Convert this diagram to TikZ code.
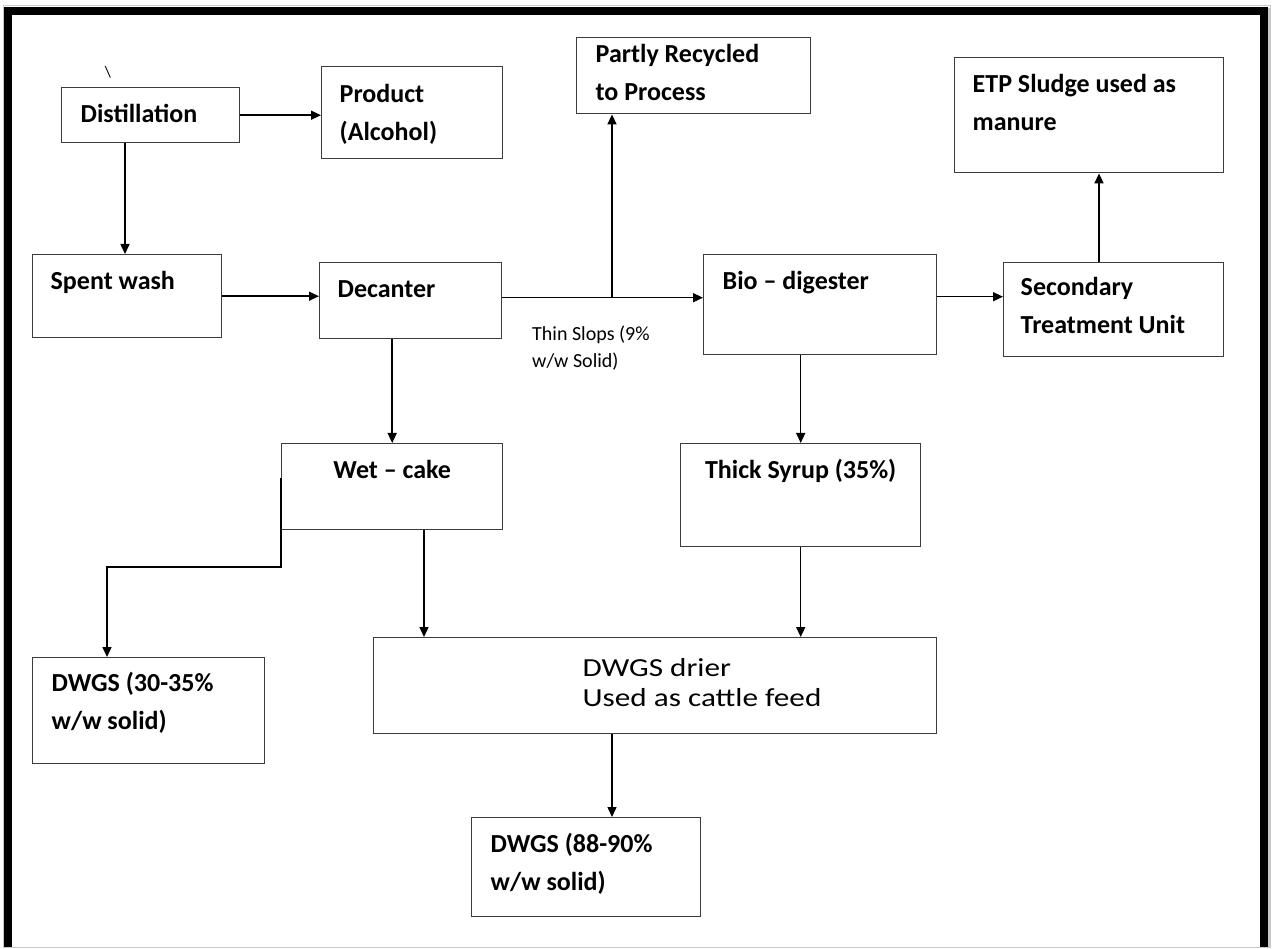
\documentclass[tikz,border=0pt]{standalone}
\usepackage{fontspec}
\setmainfont{Carlito}
\usetikzlibrary{arrows.meta}
\definecolor{boxgray}{RGB}{60,60,60}
\definecolor{framegray}{RGB}{200,200,200}

\begin{document}
\begin{tikzpicture}[x=1pt, y=-1pt,
  blk/.style={draw=boxgray, line width=1.4pt, anchor=north west, inner ysep=0pt, align=flush left,
    font=\fontsize{26}{38}\selectfont\bfseries},
  sz/.style n args={4}{text width=#1pt, inner xsep=#2pt, text height=#3pt, text depth=#4pt},
  arr/.style={line width=1.5pt, -{Triangle[length=10pt,width=9pt]}},
  slops/.style={font=\fontsize{20}{27}\selectfont, text width=150pt, align=flush left, inner sep=0pt}]

%page and frame
\useasboundingbox (0,0) rectangle (1272,949);
\fill[white] (0,0) rectangle (1272,949);
\draw[framegray, line width=1pt] (3,6) rectangle (1270,947);
\draw[framegray, line width=3pt] (1269.5,8) -- (1269.5,947);
\draw[line width=8pt, miter limit=10] (8,947) -- (8,11) -- (1264,11) -- (1264,947);

%blocks
\node[font=\fontsize{16}{16}\selectfont, inner sep=0pt] (tick) at (108,72) {\textbackslash};
\node[blk, sz={140}{19}{35}{20}] (dist) at (61,87) {Distillation};
\node[blk, sz={145}{18}{36}{56}] (prod) at (321,66) {Product\\(Alcohol)};
\node[blk, sz={196}{19}{25}{51}] (recyc) at (576,37) {Partly Recycled\\to Process};
\node[blk, sz={233}{18}{35}{80}] (etp) at (954,57) {ETP Sludge used as\\manure};
\node[blk, sz={153}{18}{35}{48}] (spent) at (32,254) {Spent wash};
\node[blk, sz={146}{18}{35}{41}] (dec) at (319,262) {Decanter};
\node[blk, sz={195}{19}{35}{65}] (bio) at (703,254) {Bio -- digester};
\node[blk, sz={186}{17}{33}{61}] (sec) at (1003,262) {Secondary\\Treatment Unit};
\node[blk, sz={201}{10}{35}{51}, align=flush center] (wet) at (281,443) {Wet -- cake};
\node[blk, sz={220}{10}{35}{68}, align=flush center] (thick) at (680,443) {Thick Syrup (35\%)};
\node[blk, sz={194}{19}{34}{72}] (dwgsA) at (32,657) {DWGS (30-35\%\\w/w solid)};
\node[blk, sz={563}{0}{39}{57}, font=\fontsize{26}{30}\selectfont] (drier) at (373,637)
  {\hspace*{209pt}\scalebox{1.2}[1]{DWGS drier}\\\hspace*{209pt}\scalebox{1.2}[1]{Used as cattle feed}};
\node[blk, sz={191}{19}{35}{64}] (dwgsB) at (471,817) {DWGS (88-90\%\\w/w solid)};

\node[slops, anchor=base west] (slops) at (532,341) {Thin Slops (9\%\\w/w Solid)};

%flows
\draw[arr] (dist.east) -- (dist.east -| prod.west);
\draw[arr] ([xshift=64pt]dist.south west) -- ([xshift=64pt]dist.south west |- spent.north);
\draw[arr] (spent.east) -- (spent.east -| dec.west);
\draw[arr] ([yshift=3pt]dec.east) -- ([yshift=3pt]dec.east -| bio.west);
\coordinate (br) at (612,297);
\draw[arr] (br) -- (br |- recyc.south);
\draw[arr] (wet.north |- dec.south) -- (wet.north);
\draw[arr] ([yshift=-35pt]wet.north west) -- ([yshift=-124pt]wet.north west)
  -| ([xshift=75pt]dwgsA.north west);
\draw[arr] ([xshift=143pt]wet.south west) -- ([xshift=143pt]wet.south west |- drier.north);
\draw[arr] (thick.north |- bio.south) -- (thick.north);
\draw[arr] (thick.south) -- (thick.south |- drier.north);
\draw[arr] ([xshift=141pt]dwgsB.north west |- drier.south) -- ([xshift=141pt]dwgsB.north west);
\draw[arr] ([yshift=8pt]bio.east) -- ([yshift=8pt]bio.east -| sec.west);
\draw[arr] ([xshift=96pt]sec.north west) -- ([xshift=96pt]sec.north west |- etp.south);

\end{tikzpicture}
\end{document}
